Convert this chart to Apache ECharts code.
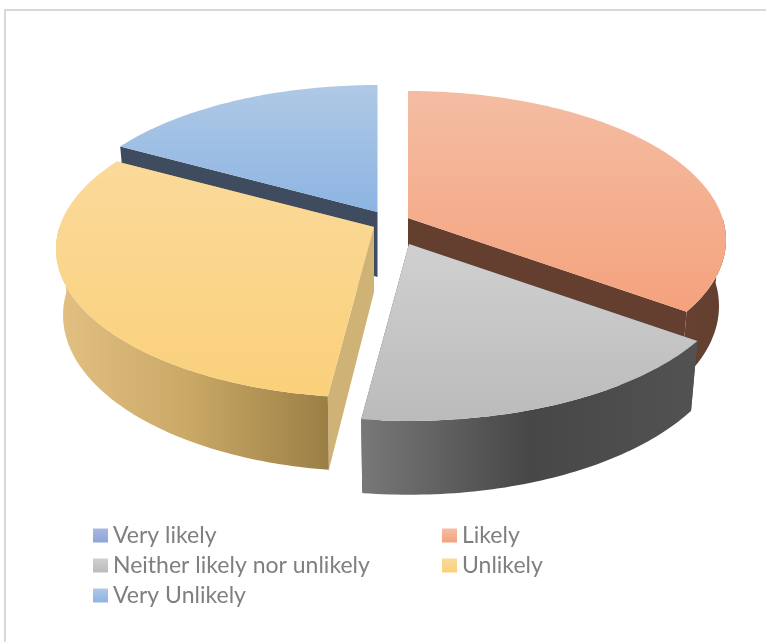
<!DOCTYPE html>
<html>
<head>
<meta charset="utf-8">
<style>
  html, body { margin: 0; padding: 0; background: #fff; }
  #main { width: 766px; height: 642px; }
</style>
<script src="https://cdn.jsdelivr.net/npm/echarts@6/dist/echarts.min.js"></script>
</head>
<body>
<div id="main"></div>
<script>
var categories = ['Very likely', 'Likely', 'Neither likely nor unlikely', 'Unlikely', 'Very Unlikely'];
var values = [0, 35, 17, 31, 17];

// slice styling
var topColors = [['#A9B8E0', '#8EA5D8'], ['#F4BDA3', '#F4A27D'], ['#D0D0D0', '#BBBBBB'], ['#FADA9B', '#FAD07A'], ['#AFC9E6', '#8DB4E2']];
var wallColors = [
  ['#44546A', '#44546A'],
  ['#664131', '#633F2F'],
  ['#787878', '#474747', '#525252'],
  ['#E3C183', '#C9A765', '#9A7F45'],
  ['#3F4B5C', '#3F4B5C']
];
var radialColors = ['#44546A', '#643F2F', '#555555', '#CFB276', '#3F4C5F'];

// how far each slice is pulled out of the pie, and how much nearer it gets
var pieCenter = [393, 225];
var explode = [[0, 0], [15, -7], [16, 19], [-19, 2], [-15.5, -13]];
var nearScale = [1, 1, 1.035, 1, 1];
var drawOrder = [4, 1, 3, 2, 0];

// perspective of the pie
var radiusX = 314.5, radiusY = 145.7, persp = 0.1476;
var wallHeight = 65, wallShrink = 0.978, wallDrop = 0.05;

var total = values.reduce(function (a, b) { return a + b; }, 0);

function sliceAngles(idx) {
  var start = 0;
  for (var i = 1; i < idx; i++) start += values[i];
  return [start / total * 360, (start + values[idx]) / total * 360];
}

function topPoint(idx, deg) {
  var r = deg * Math.PI / 180;
  var u = Math.sin(r), v = Math.cos(r);
  var w = 1 + persp * v;
  return [radiusX * u / w * nearScale[idx], -radiusY * v / w * nearScale[idx]];
}

function toScreen(idx, p, low) {
  var ax = pieCenter[0] + explode[idx][0], ay = pieCenter[1] + explode[idx][1];
  if (!low) return [ax + p[0], ay + p[1]];
  return [ax + p[0] * wallShrink, ay + p[1] + wallHeight + wallDrop * p[1]];
}

function arc(idx, from, to) {
  var pts = [];
  for (var a = from; a < to; a += 1) pts.push(topPoint(idx, a));
  pts.push(topPoint(idx, to));
  return pts;
}

function poly(points, fill) {
  return { type: 'polygon', shape: { points: points }, style: { fill: fill, stroke: null } };
}

function gradient(colors, horizontal) {
  var stops = colors.map(function (c, i) { return { offset: i / (colors.length - 1), color: c }; });
  return new echarts.graphic.LinearGradient(0, 0, horizontal ? 1 : 0, horizontal ? 0 : 1, stops);
}

function drawSlice(idx) {
  if (!values[idx]) return null;
  var ang = sliceAngles(idx);
  var apex = [0, 0];
  var kids = [];
  // walls along the two cut edges
  [ang[0], ang[1]].forEach(function (a) {
    var p = topPoint(idx, a);
    kids.push(poly([toScreen(idx, apex), toScreen(idx, p), toScreen(idx, p, true), toScreen(idx, apex, true)], radialColors[idx]));
  });
  // outer wall, front part only
  var from = Math.max(ang[0], 90), to = Math.min(ang[1], 270);
  if (to > from) {
    var rim = arc(idx, from, to);
    var upper = rim.map(function (p) { return toScreen(idx, p); });
    var lower = rim.map(function (p) { return toScreen(idx, p, true); }).reverse();
    kids.push(poly(upper.concat(lower), gradient(wallColors[idx], true)));
  }
  // top face
  var face = [toScreen(idx, apex)].concat(arc(idx, ang[0], ang[1]).map(function (p) { return toScreen(idx, p); }));
  kids.push(poly(face, gradient(topColors[idx], false)));
  return { type: 'group', children: kids };
}

var series = drawOrder.map(function (idx) {
  return {
    type: 'custom',
    name: categories[idx],
    coordinateSystem: 'none',
    silent: true,
    data: [values[idx]],
    itemStyle: { color: gradient(topColors[idx], false) },
    renderItem: function () { return drawSlice(idx); }
  };
});

function legendColumn(names, left) {
  return {
    orient: 'vertical',
    left: left,
    top: 519,
    data: names,
    icon: 'rect',
    itemWidth: 15,
    itemHeight: 14,
    itemGap: 7,
    selectedMode: false,
    textStyle: { fontFamily: 'Lato', fontSize: 23, color: '#7F7F7F', padding: [0, 0, 0, 0] },
    formatter: '{name}',
    align: 'left'
  };
}

var chart = echarts.init(document.getElementById('main'), null, { renderer: 'canvas' });
chart.setOption({
  animation: false,
  backgroundColor: '#fff',
  legend: [
    legendColumn([categories[0], categories[2], categories[4]], 88),
    legendColumn([categories[1], categories[3]], 437)
  ],
  graphic: [{
    type: 'polyline',
    shape: { points: [[5, 642], [5, 10], [766, 10]] },
    style: { stroke: '#D9D9D9', lineWidth: 2, fill: null },
    silent: true
  }],
  series: series
});
</script>
</body>
</html>
